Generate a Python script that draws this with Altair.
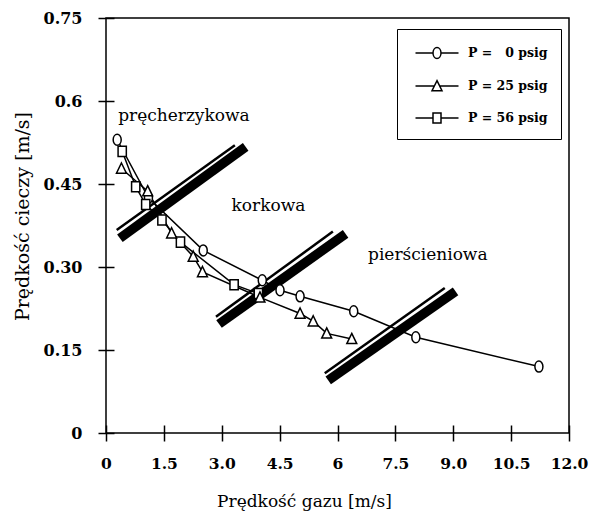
import altair as alt
import pandas as pd

# ---------------- data ----------------
series_names = ["P = \u00a0\u00a00 psig", "P = 25 psig", "P = 56 psig"]

p0_x = [0.29, 1.10, 2.52, 4.05, 4.51, 5.03, 6.42, 8.03, 11.22]
p0_y = [0.530, 0.425, 0.330, 0.276, 0.258, 0.247, 0.220, 0.173, 0.120]

p25_x = [0.40, 1.08, 1.70, 2.26, 2.50, 3.99, 5.03, 5.37, 5.72, 6.37]
p25_y = [0.478, 0.437, 0.361, 0.319, 0.291, 0.245, 0.216, 0.202, 0.180, 0.170]

p56_x = [0.42, 0.77, 1.03, 1.45, 1.93, 3.32, 3.95]
p56_y = [0.509, 0.445, 0.413, 0.385, 0.345, 0.268, 0.252]

x_ticks = [0, 1.5, 3, 4.5, 6, 7.5, 9, 10.5, 12]
x_tick_labels = ["0", "1.5", "3.0", "4.5", "6", "7.5", "9.0", "10.5", "12.0"]
y_ticks = [0, 0.15, 0.30, 0.45, 0.60, 0.75]
y_tick_labels = ["0", "0.15", "0.30", "0.45", "0.6", "0.75"]

regime_names = ["pręcherzykowa", "korkowa", "pierścieniowa"]
regime_x = [2.02, 4.21, 8.34]
regime_y = [0.573, 0.410, 0.322]

# transition boundaries: thin and thick parallel lines
thin_x1 = [0.277, 2.85, 5.67]
thin_y1 = [0.367, 0.210, 0.108]
thin_x2 = [3.34, 5.88, 8.78]
thin_y2 = [0.520, 0.364, 0.262]
thick_x1 = [0.36, 2.93, 5.76]
thick_y1 = [0.352, 0.197, 0.095]
thick_x2 = [3.62, 6.21, 9.06]
thick_y2 = [0.517, 0.360, 0.256]

# ---------------- tables ----------------
rows = []
for name, xs, ys in [(series_names[0], p0_x, p0_y),
                     (series_names[2], p56_x, p56_y),
                     (series_names[1], p25_x, p25_y)]:
    for xv, yv in zip(xs, ys):
        rows.append({"series": name, "x": xv, "y": yv})
pts = pd.DataFrame(rows)

thin_df = pd.DataFrame({"x": thin_x1, "y": thin_y1, "x2": thin_x2, "y2": thin_y2})
thick_df = pd.DataFrame({"x": thick_x1, "y": thick_y1, "x2": thick_x2, "y2": thick_y2})
txt_df = pd.DataFrame({"x": regime_x, "y": regime_y, "label": regime_names})

FONT = "DejaVu Serif"


def label_expr(vals, labels):
    expr = "''"
    for v, l in reversed(list(zip(vals, labels))):
        expr = f"abs(datum.value - {v}) < 1e-6 ? '{l}' : ({expr})"
    return expr


x_scale = alt.Scale(domain=[0, 12], nice=False, zero=False)
y_scale = alt.Scale(domain=[0, 0.75], nice=False, zero=False)

x_axis = alt.Axis(values=x_ticks, labelExpr=label_expr(x_ticks, x_tick_labels),
                  domain=False, offset=-8, tickSize=16, tickWidth=1.5, tickColor="black",
                  labelFont=FONT, labelFontSize=15.5, labelFontWeight="bold", labelColor="black",
                  labelPadding=15, labelOverlap=False, labelBound=False, labelFlush=False,
                  grid=False, title="Prędkość gazu [m/s]",
                  titleFont=FONT, titleFontSize=17, titleFontWeight="normal", titleColor="black",
                  titleX=198, titleY=76, titleAlign="center", titleBaseline="middle")
y_axis = alt.Axis(values=y_ticks, labelExpr=label_expr(y_ticks, y_tick_labels),
                  domain=False, offset=-8, tickSize=16, tickWidth=1.5, tickColor="black",
                  labelFont=FONT, labelFontSize=16, labelFontWeight="bold", labelColor="black",
                  labelPadding=16, labelOverlap=False, grid=False, title="Prędkość cieczy [m/s]",
                  titleFont=FONT, titleFontSize=19, titleFontWeight="normal", titleColor="black",
                  titleX=-92, titleY=198, titleAlign="center", titleBaseline="middle", titleAngle=270)

X = alt.X("x:Q", scale=x_scale, axis=x_axis)
Y = alt.Y("y:Q", scale=y_scale, axis=y_axis)

marker_paths = [
    "M0,-1A0.73,1 0 1,1 0,1A0.73,1 0 1,1 0,-1Z",
    "M0,-1L0.9,0.85L-0.9,0.85Z",
    "M-0.75,-0.92L0.75,-0.92L0.75,0.92L-0.75,0.92Z",
]
# legend symbols: size 400 -> unit = 10 px; line spans 43 px
legend_paths = [
    "M-2.15,0L-0.4,0M0.4,0L2.15,0M0,-0.55A0.4,0.55 0 1,1 0,0.55A0.4,0.55 0 1,1 0,-0.55Z",
    "M-2.15,0L-0.26,0M0.26,0L2.15,0M0,-0.53L0.5,0.47L-0.5,0.47Z",
    "M-2.15,0L-0.4,0M0.4,0L2.15,0M-0.4,-0.5L0.4,-0.5L0.4,0.5L-0.4,0.5Z",
]

thin = alt.Chart(thin_df).mark_rule(color="black", strokeWidth=2.5, strokeCap="butt").encode(
    x=X, y=Y, x2="x2:Q", y2="y2:Q")
thick = alt.Chart(thick_df).mark_rule(color="black", strokeWidth=9.5, strokeCap="butt").encode(
    x=X, y=Y, x2="x2:Q", y2="y2:Q")

lines = alt.Chart(pts).mark_line(color="black", strokeWidth=1.5).encode(
    x=X, y=Y, detail="series:N")

points = alt.Chart(pts).mark_point(filled=True, fill="white", stroke="black",
                                   strokeWidth=1.5, size=121, opacity=1).encode(
    x=X, y=Y,
    shape=alt.Shape("series:N", scale=alt.Scale(domain=series_names, range=marker_paths),
                    legend=None))

# helper layer that only provides the legend; its marks sit outside the clipped view
legend_layer = alt.Chart(pts).transform_calculate(
    yh="datum.y + 10"
).mark_point(filled=False, color="black", strokeWidth=1.5, size=400, opacity=1,
             clip=True).encode(
    x=X, y=alt.Y("yh:Q", scale=y_scale, axis=y_axis),
    shape=alt.Shape("series:N", scale=alt.Scale(domain=series_names, range=legend_paths),
                    legend=alt.Legend(title=None, orient="none", legendX=291, legendY=11,
                                      strokeColor="black", fillColor="white", padding=13,
                                      rowPadding=13, labelOffset=20, symbolOffset=16,
                                      labelFont=FONT, labelFontSize=12.5, labelFontWeight="bold",
                                      labelColor="black", symbolSize=400,
                                      symbolStrokeColor="black", symbolStrokeWidth=1.5)))

texts = alt.Chart(txt_df).mark_text(font=FONT, fontSize=17, color="black").encode(
    x=X, y=Y, text="label:N")

chart = alt.layer(thin, thick, lines, points, legend_layer, texts).resolve_scale(
    shape="independent"
).properties(
    width=463, height=415,
    padding={"left": 106, "top": 18, "right": 23, "bottom": 80},
    autosize=alt.AutoSizeParams(type="none"),
    background="white",
).configure_view(stroke="black", strokeWidth=1.5)

chart.save("out.html", embed_options={"renderer": "svg", "actions": False})
